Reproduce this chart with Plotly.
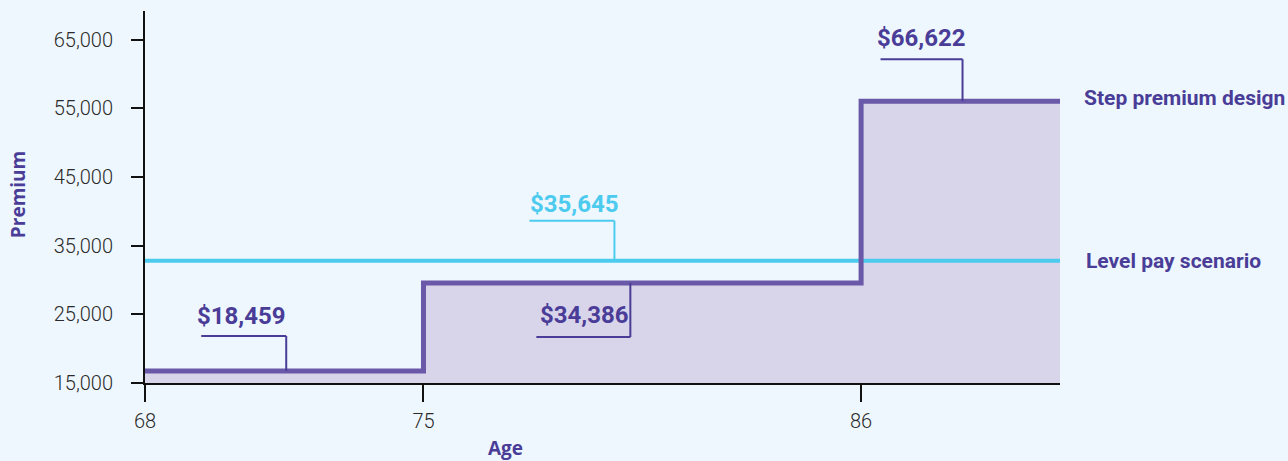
import plotly.graph_objects as go

# ---- data ----
step_ages = [68, 75, 86, 91]
step_premium = [16750, 29560, 56060, 56060]
level_ages = [68, 91]
level_premium = [32820, 32820]
x_ticks = [68, 75, 86]
y_ticks = [15000, 25000, 35000, 45000, 55000, 65000]
y_tick_labels = ["15,000", "25,000", "35,000", "45,000", "55,000", "65,000"]
series_names = ["Step premium design", "Level pay scenario"]
callout_texts = ["$18,459", "$34,386", "$35,645", "$66,622"]
callout_ages = [71.55, 80.2, 79.8, 88.55]
callout_values = [step_premium[0], step_premium[1], level_premium[0], step_premium[2]]

PURPLE = "#6a58a8"
PURPLE_TXT = "#4a3d98"
CYAN = "#4ccbef"
FILL = "#d8d4e9"
BG = "#eef7fd"

NARROW = "Roboto, Liberation Sans Narrow, DejaVu Sans Condensed, sans-serif"

fig = go.Figure()
# fill under step line
fig.add_trace(go.Scatter(x=step_ages, y=step_premium, mode="lines", line_shape="hv",
                         line=dict(width=0, color=FILL), fill="tozeroy", fillcolor=FILL,
                         hoverinfo="skip", showlegend=False))
# level line
fig.add_trace(go.Scatter(x=level_ages, y=level_premium, mode="lines",
                         line=dict(width=4, color=CYAN), name=series_names[1], showlegend=False))
# step line
fig.add_trace(go.Scatter(x=step_ages, y=step_premium, mode="lines", line_shape="hv",
                         line=dict(width=5, color=PURPLE), name=series_names[0], showlegend=False))

# callouts: (vertical offset px, horizontal length px, text dx, text dy, color)
callout_style = [
    (35, 85, -45, 55, PURPLE_TXT),
    (-54, 94, -46, -32, PURPLE_TXT),
    (40, 85, -40, 57, CYAN),
    (42, 82, -41, 63, PURPLE_TXT),
]
shapes = []
annotations = []
for txt, ax_, val, (dv, hl, tdx, tdy, col) in zip(callout_texts, callout_ages, callout_values, callout_style):
    shapes.append(dict(type="line", xref="x", yref="y", x0=ax_, x1=ax_,
                       ysizemode="pixel", yanchor=val, y0=0, y1=dv,
                       line=dict(color=col, width=2)))
    shapes.append(dict(type="line", xref="x", yref="y", xsizemode="pixel", xanchor=ax_,
                       x0=-hl, x1=0, ysizemode="pixel", yanchor=val, y0=dv, y1=dv,
                       line=dict(color=col, width=2)))
    annotations.append(dict(x=ax_, y=val, xref="x", yref="y", text="<b>%s</b>" % txt,
                            showarrow=False, xanchor="center", yanchor="middle",
                            xshift=tdx, yshift=tdy,
                            font=dict(family=NARROW, size=24, color=col)))

# series labels
annotations.append(dict(x=step_ages[-1], y=step_premium[-1], xref="x", yref="y",
                        text="<b>%s</b>" % series_names[0], showarrow=False,
                        xanchor="left", yanchor="middle", xshift=22, yshift=3,
                        font=dict(family=NARROW, size=21, color=PURPLE_TXT)))
annotations.append(dict(x=level_ages[-1], y=level_premium[-1], xref="x", yref="y",
                        text="<b>%s</b>" % series_names[1], showarrow=False,
                        xanchor="left", yanchor="middle", xshift=24, yshift=0,
                        font=dict(family=NARROW, size=21, color=PURPLE_TXT)))
# axis titles
annotations.append(dict(x=-127 / 915, y=0.505, xref="paper", yref="paper", text="<b>Premium</b>",
                        textangle=-90, showarrow=False, xanchor="center", yanchor="middle",
                        font=dict(family="Open Sans, sans-serif", size=19, color=PURPLE_TXT)))
annotations.append(dict(x=(505 - 145) / 915, y=-(448 - 382.7) / 372, xref="paper", yref="paper",
                        text="<b>Age</b>", showarrow=False, xanchor="center", yanchor="middle",
                        font=dict(family="Open Sans, sans-serif", size=19, color=PURPLE_TXT)))

fig.update_layout(
    width=1288, height=461,
    margin=dict(l=145, r=228, t=11, b=78),
    paper_bgcolor=BG, plot_bgcolor=BG,
    shapes=shapes, annotations=annotations,
    xaxis=dict(range=[68, 91], tickvals=x_ticks, ticktext=[str(v) for v in x_ticks],
               showgrid=False, zeroline=False, showline=True, linecolor="#111", linewidth=2,
               ticks="outside", ticklen=17, tickwidth=2, tickcolor="#111",
               tickfont=dict(family=NARROW, size=20, color="#2a2a2a", weight=300), ticklabelstandoff=2),
    yaxis=dict(range=[15000, 69200], tickvals=y_ticks, ticktext=y_tick_labels,
               showgrid=False, zeroline=False, showline=True, linecolor="#111", linewidth=2,
               ticks="outside", ticklen=12, tickwidth=2, tickcolor="#111",
               tickfont=dict(family=NARROW, size=20, color="#2a2a2a", weight=300), ticklabelstandoff=14),
    font=dict(family=NARROW),
)

fig.write_html("out.html", config={"displayModeBar": False},
               post_script="document.body.style.margin='0';")
